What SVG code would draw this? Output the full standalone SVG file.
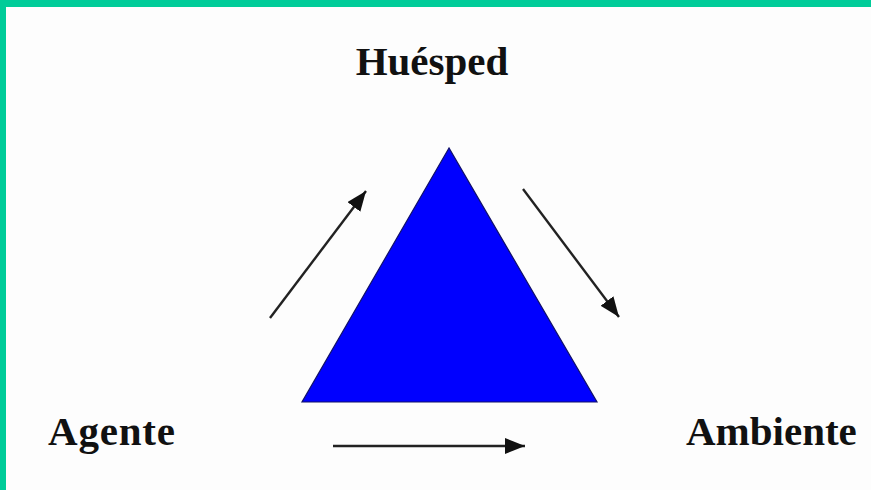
<svg xmlns="http://www.w3.org/2000/svg" width="871" height="490" viewBox="0 0 871 490">
<style>
.lbl{font-family:"Liberation Serif","Times New Roman",serif;font-weight:bold;font-size:41px;fill:#111;}
.arr{stroke:#222;stroke-width:2.4;fill:none;marker-end:url(#ah);}
</style>
<defs>
<marker id="ah" markerUnits="userSpaceOnUse" markerWidth="22" markerHeight="18" refX="20" refY="8" orient="auto">
<path d="M0,0 L20,8 L0,16 Z" fill="#111"/>
</marker>
</defs>
<rect x="0" y="0" width="871" height="490" fill="#fdfdfd"/>
<rect x="0" y="0" width="871" height="7" fill="#00cc99"/>
<rect x="0" y="0" width="6" height="490" fill="#00cc99"/>
<g id="triangle">
<polygon points="449,148 302,402 597,402" fill="#0000ff" stroke="#10106a" stroke-width="1.2"/>
</g>
<g id="huesped"><text class="lbl" x="432" y="75" text-anchor="middle">Huésped</text></g>
<g id="agente"><text class="lbl" x="48" y="445" textLength="127" lengthAdjust="spacing">Agente</text></g>
<g id="ambiente"><text class="lbl" x="686" y="445">Ambiente</text></g>
<g id="connectors">
<line class="arr" x1="270" y1="318" x2="366" y2="191"/>
<line class="arr" x1="523" y1="189" x2="619" y2="317"/>
<line class="arr" x1="333" y1="446" x2="525" y2="446"/>
</g>
</svg>
